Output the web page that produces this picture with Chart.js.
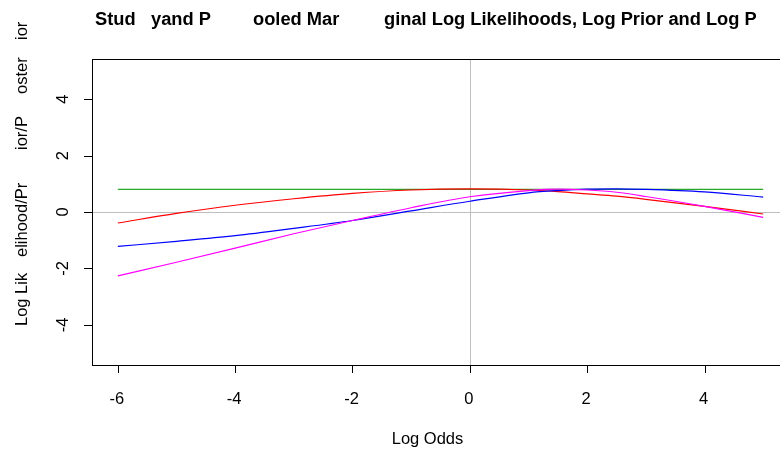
<!DOCTYPE html>
<html>
<head>
<meta charset="utf-8">
<script src="https://cdn.jsdelivr.net/npm/chart.js@4.4.1/dist/chart.umd.min.js"></script>
<style>
  html, body { margin: 0; padding: 0; background: #fff; overflow: hidden; }
  #wrap { width: 790px; height: 449px; }
</style>
</head>
<body>
<div id="wrap"><canvas id="chart" width="790" height="449"></canvas></div>
<script>
const logOdds = [-6, -5, -4, -3, -2, -1, 0, 1, 1.5, 2, 2.5, 3, 4, 5];
const studyLik = [-0.39, -0.05, 0.24, 0.47, 0.66, 0.78, 0.82, 0.78, 0.72, 0.64, 0.56, 0.45, 0.20, -0.07];
const pooledLik = [-1.22, -1.04, -0.84, -0.58, -0.30, 0.04, 0.38, 0.68, 0.76, 0.81, 0.82, 0.80, 0.71, 0.53];
const logPrior = [0.80, 0.80, 0.80, 0.80, 0.80, 0.80, 0.80, 0.80, 0.80, 0.80, 0.80, 0.80, 0.80, 0.80];
const logPosterior = [-2.26, -1.78, -1.28, -0.77, -0.30, 0.15, 0.54, 0.76, 0.81, 0.78, 0.70, 0.55, 0.20, -0.19];
const xTicks = [-6, -4, -2, 0, 2, 4];
const yTicks = [-4, -2, 0, 2, 4];

// the title and y label come out broken into pieces in the original
const titleParts = ['Stud', 'yand P', 'ooled Mar', 'ginal Log Likelihoods, Log Prior and Log P'];
const titleStarts = [95, 151, 253, 384];
const yTitleParts = ['Log Lik', 'elihood/Pr', 'ior/P', 'oster', 'ior'];
const yTitleStarts = [326, 257, 150, 94, 40];

const pts = (ys) => logOdds.map((x, i) => ({ x, y: ys[i] }));
const FONT = '"Liberation Sans", Arial, sans-serif';

const basePlot = {
  id: 'basePlot',
  beforeDatasetsDraw(chart) {
    const { ctx, chartArea: a, scales: { x, y } } = chart;
    ctx.save();
    ctx.strokeStyle = '#bebebe';
    ctx.lineWidth = 1;
    ctx.beginPath();
    const x0 = Math.round(x.getPixelForValue(0)) + 0.5;
    const y0 = Math.round(y.getPixelForValue(0)) + 0.5;
    ctx.moveTo(x0, a.top); ctx.lineTo(x0, a.bottom);
    ctx.moveTo(a.left, y0); ctx.lineTo(a.right, y0);
    ctx.stroke();
    ctx.restore();
  },
  afterDraw(chart) {
    const { ctx, chartArea: a, scales: { x, y } } = chart;
    ctx.save();
    ctx.strokeStyle = '#000';
    ctx.lineWidth = 1;
    ctx.strokeRect(Math.round(a.left) + 0.5, Math.round(a.top) + 0.5,
      Math.round(a.right - a.left), Math.round(a.bottom - a.top));

    ctx.fillStyle = '#000';
    ctx.font = '16.5px ' + FONT;
    ctx.beginPath();
    xTicks.forEach((t) => {
      const px = Math.round(x.getPixelForValue(t)) + 0.5;
      ctx.moveTo(px, a.bottom); ctx.lineTo(px, a.bottom + 8);
    });
    yTicks.forEach((t) => {
      const py = Math.round(y.getPixelForValue(t)) + 0.5;
      ctx.moveTo(a.left, py); ctx.lineTo(a.left - 8, py);
    });
    ctx.stroke();

    ctx.textAlign = 'center';
    ctx.textBaseline = 'middle';
    xTicks.forEach((t) => {
      ctx.fillText(String(t), x.getPixelForValue(t) - 1, a.bottom + 34);
    });
    yTicks.forEach((t) => {
      ctx.save();
      ctx.translate(a.left - 29, y.getPixelForValue(t));
      ctx.rotate(-Math.PI / 2);
      ctx.fillText(String(t), 0, 0);
      ctx.restore();
    });

    ctx.fillText('Log Odds', (a.left + a.right) / 2 - 13, a.bottom + 74);

    // y axis title, bottom-up in pieces
    ctx.textAlign = 'left';
    yTitleParts.forEach((s, i) => {
      ctx.save();
      ctx.translate(22, yTitleStarts[i]);
      ctx.rotate(-Math.PI / 2);
      ctx.fillText(s, 0, 0);
      ctx.restore();
    });

    // main title
    ctx.font = 'bold 18.3px ' + FONT;
    ctx.textBaseline = 'alphabetic';
    titleParts.forEach((s, i) => {
      ctx.fillText(s, titleStarts[i], 24.5);
    });
    ctx.restore();
  }
};

const line = (label, data, color) => ({
  label, data: pts(data), borderColor: color, borderWidth: 1.2,
  pointRadius: 0, fill: false, cubicInterpolationMode: 'monotone'
});

new Chart(document.getElementById('chart'), {
  type: 'line',
  data: {
    datasets: [
      line('Log Posterior', logPosterior, '#ff00ff'),
      line('Pooled Likelihood', pooledLik, '#0000ff'),
      line('Study Likelihood', studyLik, '#ff0000'),
      line('Log Prior', logPrior, '#2aa82a'),
    ]
  },
  options: {
    responsive: false,
    animation: false,
    layout: { padding: { left: 92, top: 59, right: 1, bottom: 84 } },
    plugins: { legend: { display: false }, tooltip: { enabled: false } },
    scales: {
      x: { type: 'linear', min: -6.44, max: 5.44, display: false },
      y: { min: -5.42, max: 5.42, display: false }
    }
  },
  plugins: [basePlot]
});
</script>
</body>
</html>
